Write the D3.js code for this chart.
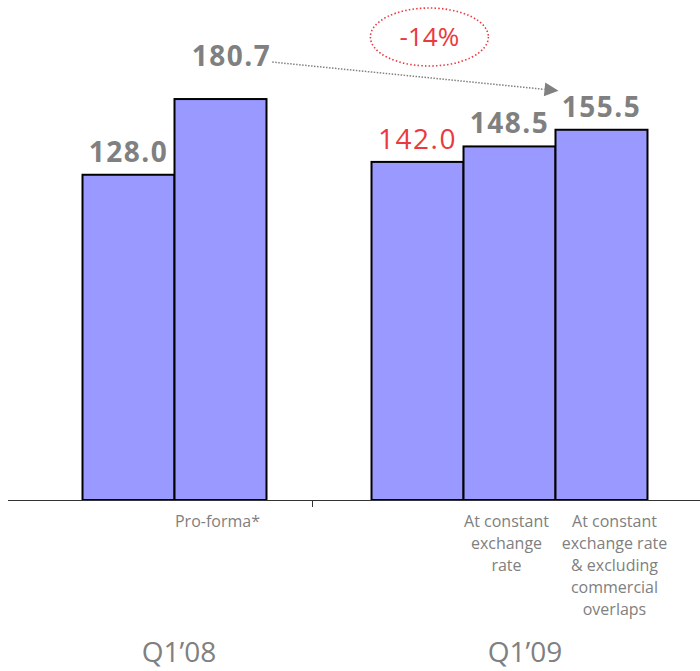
<!DOCTYPE html>
<html>
<head>
<meta charset="utf-8">
<script src="https://cdn.jsdelivr.net/npm/d3@7"></script>
<style>
  html, body { margin: 0; padding: 0; background: #fff; }
  svg { display: block; font-family: "Open Sans", sans-serif; }
</style>
</head>
<body>
<svg id="chart" width="700" height="671"></svg>
<script>
// ---- data ----
const categories = ["Q1’08", "Q1’09"];
const barGroup = [0, 0, 1, 1, 1];
const valueLabels = ["128.0", "180.7", "142.0", "148.5", "155.5"];
// bar heights as drawn in the picture (the original is not to scale)
const barValues = [136.6, 168.4, 142.0, 148.5, 155.5];
const subLabels = [
  [],
  ["Pro-forma*"],
  [],
  ["At constant", "exchange", "rate"],
  ["At constant", "exchange rate", "& excluding", "commercial", "overlaps"]
];
const changeLabel = "-14%";
const yDomain = [0, 210];

// ---- styles ----
const grey = "#808080";
const red = "#ea3a40";
const barFill = "#9999ff";

const svg = d3.select("#chart");
const baseY = 500;

const y = d3.scaleLinear().domain(yDomain).range([baseY, 0]);
const xBars = d3.scaleBand().domain(categories).range([7, 677]);
const xLabels = d3.scaleBand().domain(categories).range([8, 700]);
const barW = xBars.bandwidth() * 0.2746;

const bars = barValues.map((v, i) => {
  const g = barGroup[i];
  const members = barGroup.map((gg, k) => gg === g ? k : -1).filter(k => k >= 0);
  const pos = members.indexOf(i);
  const cx = xBars(categories[g]) + xBars.bandwidth() / 2 + (pos - (members.length - 1) / 2) * barW;
  return { i, v, cx, x0: cx - barW / 2, top: y(v), label: valueLabels[i], sub: subLabels[i] };
});

// bars
svg.append("g").selectAll("rect").data(bars).join("rect")
  .attr("x", d => d.x0)
  .attr("y", d => d.top)
  .attr("width", barW)
  .attr("height", d => baseY - d.top)
  .attr("fill", barFill)
  .attr("stroke", "#000")
  .attr("stroke-width", 2);

// axis line
svg.append("line")
  .attr("x1", xLabels.range()[0]).attr("x2", xLabels.range()[1])
  .attr("y1", baseY + 0.5).attr("y2", baseY + 0.5)
  .attr("stroke", "#333").attr("stroke-width", 1);
// tick between groups
const tickX = Math.round((bars[1].x0 + barW + bars[2].x0) / 2) - 6.5;
svg.append("line")
  .attr("x1", tickX).attr("x2", tickX)
  .attr("y1", baseY).attr("y2", baseY + 7)
  .attr("stroke", "#333").attr("stroke-width", 1);

// value labels
const highlight = 2;   // red label
const arrowFrom = 1;   // pro-forma label starts the arrow
const arrowTo = 4;
const valueText = svg.append("g").selectAll("text").data(bars).join("text")
  .attr("x", d => d.i === arrowFrom ? d.cx + 11 : d.cx)
  .attr("y", d => d.top - (d.i === arrowFrom ? 33 : 13))
  .attr("text-anchor", "middle")
  .attr("font-size", 28)
  .attr("letter-spacing", 1.5)
  .attr("font-weight", d => d.i === highlight ? 400 : 700)
  .attr("fill", d => d.i === highlight ? red : grey)
  .text(d => d.label);

// sub labels
bars.forEach(d => {
  if (!d.sub.length) return;
  const t = svg.append("text")
    .attr("text-anchor", "middle")
    .attr("font-size", 16)
    .attr("fill", grey);
  d.sub.forEach((line, k) => {
    t.append("tspan")
      .attr("x", d.cx + (d.sub.length > 3 ? 13 : -3))
      .attr("y", 527 + k * 22)
      .text(line);
  });
});

// category labels
svg.append("g").selectAll("text").data(categories).join("text")
  .attr("x", d => xLabels(d) + xLabels.bandwidth() / 2 - 2)
  .attr("y", 662)
  .attr("text-anchor", "middle")
  .attr("font-size", 28)
  .attr("fill", grey)
  .text(d => d);

// arrow annotation
const fromNode = valueText.filter(d => d.i === arrowFrom).node();
const fb = fromNode.getBBox();
const sx = fb.x + fb.width + 1, sy = bars[arrowFrom].top - 37;
const tb = bars[arrowTo];
const ex = tb.x0 + 3, ey = tb.top - 39;
const ang = Math.atan2(ey - sy, ex - sx);
const headL = 14, headW = 7;
const bx = ex - headL * Math.cos(ang), by = ey - headL * Math.sin(ang);
svg.append("line")
  .attr("x1", sx).attr("y1", sy).attr("x2", bx).attr("y2", by)
  .attr("stroke", grey).attr("stroke-width", 1.5)
  .attr("stroke-dasharray", "1.5,1.5");
svg.append("path")
  .attr("d", d3.line()([
    [ex, ey],
    [bx + headW * Math.sin(ang), by - headW * Math.cos(ang)],
    [bx - headW * Math.sin(ang), by + headW * Math.cos(ang)]
  ]) + "Z")
  .attr("fill", grey);

// change ellipse
const ecx = (sx + ex) / 2 + 14, ecy = 37;
svg.append("ellipse")
  .attr("cx", ecx).attr("cy", ecy).attr("rx", 59).attr("ry", 29)
  .attr("fill", "none").attr("stroke", red).attr("stroke-width", 1.6)
  .attr("stroke-dasharray", "1.5,2.2");
svg.append("text")
  .attr("x", ecx).attr("y", ecy + 9)
  .attr("text-anchor", "middle")
  .attr("font-size", 26)
  .attr("fill", red)
  .text(changeLabel);
</script>
</body>
</html>
